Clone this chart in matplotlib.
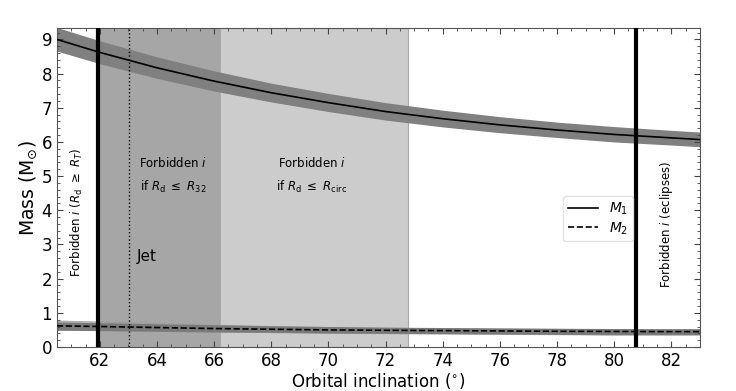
import matplotlib
matplotlib.use("Agg")
import matplotlib.pyplot as plt
from matplotlib.ticker import MultipleLocator

# Data
incl = [60.5, 62, 64, 66, 68, 70, 72, 74, 76, 78, 80, 82, 83]
m1 = [9.00, 8.62, 8.17, 7.78, 7.44, 7.15, 6.89, 6.68, 6.50, 6.35, 6.22, 6.12, 6.07]
m1_hi = [9.35, 8.96, 8.49, 8.08, 7.72, 7.42, 7.15, 6.93, 6.74, 6.58, 6.45, 6.34, 6.29]
m1_lo = [8.66, 8.29, 7.86, 7.49, 7.17, 6.89, 6.64, 6.44, 6.27, 6.13, 6.00, 5.91, 5.86]
m2 = [0.62, 0.60, 0.57, 0.54, 0.52, 0.50, 0.49, 0.48, 0.47, 0.46, 0.455, 0.45, 0.45]
m2_hi_a = [0.79, 0.76, 0.71, 0.67, 0.63, 0.60, 0.58, 0.56, 0.55, 0.54, 0.535, 0.53, 0.53]
m2_lo_a = [0.50, 0.48, 0.46, 0.44, 0.42, 0.40, 0.39, 0.38, 0.37, 0.36, 0.35, 0.35, 0.35]
m2_hi_b = [0.73, 0.71, 0.68, 0.65, 0.62, 0.60, 0.58, 0.57, 0.56, 0.55, 0.54, 0.535, 0.535]
m2_lo_b = [0.49, 0.48, 0.46, 0.44, 0.43, 0.41, 0.40, 0.39, 0.38, 0.37, 0.36, 0.36, 0.36]

i_tidal = 61.93
i_jet = 63.02
i_r32 = 66.22
i_circ = 72.8
i_eclipse = 80.78

fig = plt.figure(figsize=(7.36, 3.91), dpi=100)
ax = fig.add_axes([0.0774, 0.1125, 0.8736, 0.8155])

ax.axvspan(i_tidal, i_r32, facecolor='#a6a6a6', edgecolor='#999999', lw=0.8, zorder=0)
ax.axvspan(i_r32, i_circ, facecolor='#cccccc', edgecolor='#aaaaaa', lw=0.8, zorder=0)

ax.fill_between(incl, m1_lo, m1_hi, color='#808080', lw=0, zorder=1)
ax.fill_between(incl, m2_lo_a, m2_hi_a, color='#9a9a9a', alpha=0.8, lw=0, zorder=1)
ax.fill_between(incl, m2_lo_b, m2_hi_b, color='#7a7a7a', lw=0, zorder=1)

ax.plot(incl, m1, color='black', lw=1.2, ls='-', label=r'$M_1$', zorder=3)
ax.plot(incl, m2, color='black', lw=1.2, ls='--', label=r'$M_2$', zorder=3)

ax.axvline(i_tidal, color='black', lw=3, zorder=4)
ax.axvline(i_eclipse, color='black', lw=3, zorder=4)
ax.axvline(i_jet, color='black', lw=1, ls=':', zorder=4)

ax.set_xlim(60.5, 83)
ax.set_ylim(0, 9.33)
ax.xaxis.set_major_locator(MultipleLocator(2))
ax.xaxis.set_minor_locator(MultipleLocator(0.5))
ax.yaxis.set_major_locator(MultipleLocator(1))
ax.yaxis.set_minor_locator(MultipleLocator(0.2))
ax.tick_params(which='both', direction='in', top=True, right=True, colors='#444444',
               labelcolor='black', labelsize=12)
ax.tick_params(which='major', length=4)
ax.tick_params(which='minor', length=2)
for s in ax.spines.values():
    s.set_color('#555555')

ax.set_xlabel('Orbital inclination ($^{\\circ}$)', fontsize=12, labelpad=1)
ax.set_ylabel(r'Mass (M$_{\odot}$)', fontsize=13.5, labelpad=2)

ax.text(61.2, 3.95, r'Forbidden $i$ ($R_{\rm d}$ $\geq$ $R_T$)', rotation=90,
        ha='center', va='center', fontsize=8.5)
ax.text(64.56, 5.02, r'Forbidden $i$' '\n' r'if $R_{\rm d}$ $\leq$ $R_{32}$',
        ha='center', va='center', fontsize=8.5, linespacing=1.75)
ax.text(69.42, 5.02, r'Forbidden $i$' '\n' r'if $R_{\rm d}$ $\leq$ $R_{\rm circ}$',
        ha='center', va='center', fontsize=8.5, linespacing=1.75)
ax.text(63.3, 2.65, 'Jet', ha='left', va='center', fontsize=11)
ax.text(81.84, 3.6, r'Forbidden $i$ (eclipses)', rotation=90,
        ha='center', va='center', fontsize=8.5)

leg = ax.legend(loc='upper left', bbox_to_anchor=(0.776, 0.495), fontsize=10,
                frameon=True, fancybox=True, framealpha=0.85, edgecolor='#dddddd',
                handlelength=2.2, handletextpad=0.8, borderpad=0.35, labelspacing=0.2)
leg.set_zorder(6)

fig.savefig('out.png', dpi=100)
